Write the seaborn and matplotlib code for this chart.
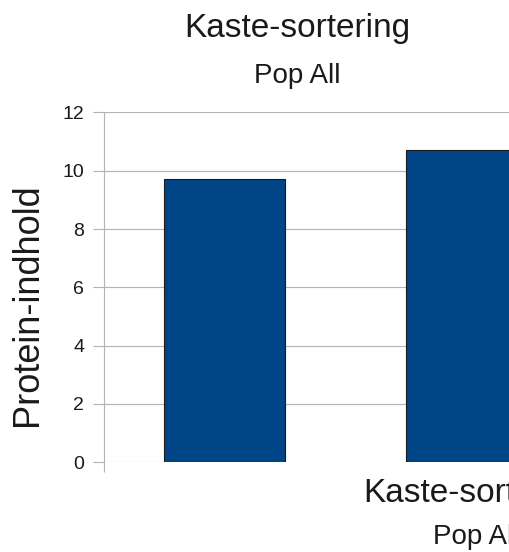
import matplotlib
matplotlib.use("Agg")
import matplotlib.pyplot as plt
import pandas as pd
import seaborn as sns

# ---------------------------------------------------------------------------
# Data
# ---------------------------------------------------------------------------
categories = ["Kaste-sortering", "Kaste-sortering 2"]
protein = [9.7, 10.7]
y_ticks = [0, 2, 4, 6, 8, 10, 12]

TITLE = "Kaste-sortering"
SUBTITLE = "Pop All"
X_LABEL = "Kaste-sortering"
X_SUBLABEL = "Pop All"
Y_LABEL = "Protein-indhold"

BAR_COLOR = "#004586"
GRID_COLOR = "#b3b3b3"
TEXT_COLOR = "#1a1a1a"

sns.set_theme(style="white")
plt.rcParams["font.family"] = ["Liberation Sans", "DejaVu Sans"]

df = pd.DataFrame({"cat": categories, "value": protein})

W, H = 509, 552
fig = plt.figure(figsize=(W / 100, H / 100), dpi=100)
fig.patch.set_facecolor("white")

# axes run past the right edge of the picture (cropped chart)
pitch = 242
ax = fig.add_axes([103.5 / W, 89.7 / H, 2 * pitch / W, (462.3 - 112.4) / H])

sns.barplot(data=df, x="cat", y="value", color=BAR_COLOR, saturation=1,
            width=0.5, edgecolor="#1a1a1a", linewidth=0.8, ax=ax, zorder=3)

ax.set_xlim(-0.5, 1.5)
ax.set_ylim(0, 12)
ax.set_yticks(y_ticks)
ax.set_yticklabels([str(t) for t in y_ticks], fontsize=14, color=TEXT_COLOR)
ax.set_xticks([-0.5])
ax.set_xticklabels([""])
ax.tick_params(axis="y", length=8, width=0.8, color=GRID_COLOR, pad=6, direction="out", left=True)
ax.tick_params(axis="x", length=7, width=0.8, color=GRID_COLOR, direction="out", bottom=True)

ax.grid(axis="y", color=GRID_COLOR, linewidth=0.8, zorder=0)
ax.yaxis.get_gridlines()[0].set_visible(False)
# baseline only shows up to the first bar
first = ax.patches[0]
ax.plot([ax.get_xlim()[0], first.get_x()], [0, 0], color=GRID_COLOR, lw=0.8, zorder=1,
        solid_capstyle="butt")

for side in ["top", "right", "bottom"]:
    ax.spines[side].set_visible(False)
ax.spines["left"].set_color(GRID_COLOR)
ax.spines["left"].set_linewidth(0.8)
ax.set_xlabel("")
ax.set_ylabel("")

# titles and axis labels
fig.text(297 / W, (H - 37) / H, TITLE, ha="center", va="baseline", fontsize=24, color=TEXT_COLOR)
fig.text(297 / W, (H - 83) / H, SUBTITLE, ha="center", va="baseline", fontsize=20, color=TEXT_COLOR)
fig.text(476 / W, (H - 502) / H, X_LABEL, ha="center", va="baseline", fontsize=24, color=TEXT_COLOR)
fig.text(476 / W, (H - 544) / H, X_SUBLABEL, ha="center", va="baseline", fontsize=20, color=TEXT_COLOR)
fig.text(28 / W, (H - 305) / H, Y_LABEL, ha="center", va="center", rotation=90,
         fontsize=26, color=TEXT_COLOR)

fig.savefig("out.png", dpi=100, facecolor="white")
